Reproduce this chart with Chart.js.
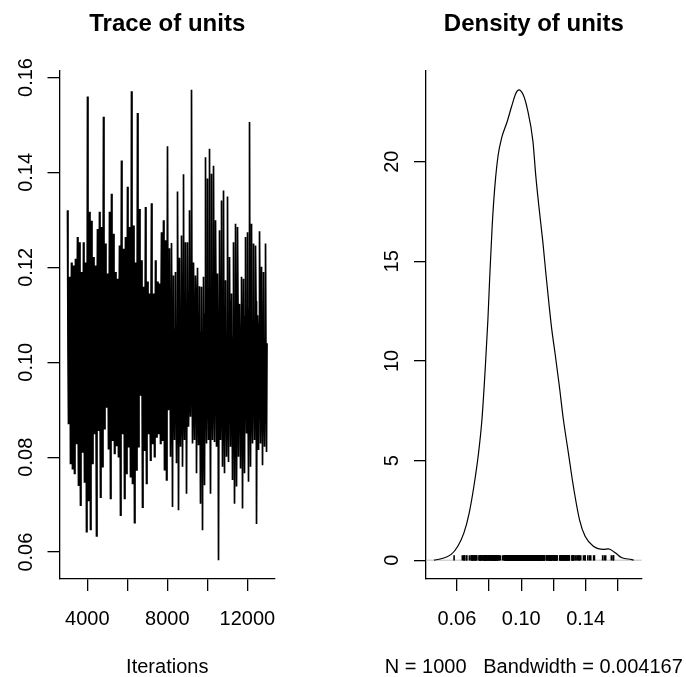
<!DOCTYPE html>
<html>
<head>
<meta charset="utf-8">
<script src="https://cdn.jsdelivr.net/npm/chart.js@4.4.1/dist/chart.umd.min.js"></script>
<style>
  body { margin: 0; background: #fff; }
  .panel { position: absolute; top: 0; width: 343px; height: 677px; }
</style>
</head>
<body>
<div class="panel" style="left:0"><canvas id="trace" width="343" height="677"></canvas></div>
<div class="panel" style="left:343px"><canvas id="density" width="343" height="677"></canvas></div>
<script>
// trace of "units": for each pair of pixel columns
// the top of the ink, a value inside the solid band, the bottom of the ink,
// and another value inside the band (iteration 3010, every 25)
const iterStart = 3010;
const iterStep = 25;
const tracePeaks = [
  0.132,0.118,0.121,0.1204,0.1218,0.1264,0.1253,0.119,0.1253,0.121,
  0.156,0.1317,0.1298,0.1222,0.1204,0.1281,0.1317,0.1285,0.1517,0.125,
  0.1187,0.1317,0.1355,0.1271,0.119,0.1176,0.1246,0.1425,0.1239,0.1264,
  0.137,0.1285,0.1571,0.1288,0.121,0.1525,0.1323,0.1215,0.1159,0.1327,
  0.117,0.1145,0.1335,0.1145,0.1215,0.117,0.1166,0.1274,0.1299,0.1257,
  0.1455,0.124,0.1251,0.1183,0.119,0.136,0.122,0.1267,0.1396,0.1253,
  0.1253,0.132,0.1574,0.121,0.1183,0.1199,0.116,0.1159,0.118,0.1432,
  0.1387,0.145,0.1397,0.1414,0.1299,0.1187,0.1278,0.1341,0.1362,0.1173,
  0.1349,0.1222,0.1145,0.1253,0.1292,0.1285,0.1123,0.118,0.1176,0.1264,
  0.1274,0.1506,0.1292,0.125,0.1246,0.1099,0.1276,0.1201,0.119,0.125
];
const traceTroughs = [
  0.0871,0.0787,0.0776,0.0766,0.0829,0.0741,0.0699,0.0811,0.0748,0.0643,
  0.0709,0.0648,0.0787,0.085,0.0634,0.0857,0.0716,0.078,0.086,0.0906,
  0.0818,0.0713,0.0836,0.0808,0.0825,0.0801,0.0678,0.085,0.0713,0.0766,
  0.0822,0.0759,0.0745,0.0662,0.0773,0.0822,0.0931,0.0695,0.0815,0.0745,
  0.085,0.0794,0.0829,0.0801,0.0843,0.085,0.0829,0.0836,0.0774,0.0752,
  0.0899,0.0801,0.0695,0.0836,0.0787,0.0688,0.0822,0.078,0.0836,0.0723,
  0.0864,0.0885,0.0829,0.0836,0.0766,0.0825,0.0702,0.0646,0.0741,0.0829,
  0.0836,0.0723,0.0836,0.0832,0.0822,0.0583,0.0836,0.078,0.0766,0.0801,
  0.079,0.0822,0.0752,0.0702,0.0738,0.0801,0.0776,0.0692,0.0766,0.085,
  0.0748,0.078,0.0829,0.0836,0.0659,0.0815,0.0829,0.0783,0.0822,0.0811
];
const traceMids = [
  0.1032,0.0951,0.1104,0.0987,0.1068,0.0915,0.1121,0.1009,0.0942,0.1083,
  0.0968,0.1047,0.0896,0.1135,0.1014,0.0929,0.1092,0.0976,0.1058,0.0903,
  0.1117,0.0993,0.1026,0.0937,0.1074,0.1002,0.0958,0.1143,0.0919,0.1061,
  0.0984,0.1098,0.0947,0.1039,0.0891,0.1112,0.1021,0.0966,0.1087,0.0935,
  0.1053,0.0979,0.1128,0.0908,0.1045,0.0996,0.1076,0.0924,0.1017,0.1105,
  0.0959,0.1064,0.0988,0.1131,0.0912,0.1036,0.1095,0.0971,0.1011,0.0943,
  0.1081,0.0926,0.1049,0.1003,0.1118,0.0954,0.1029,0.0898,0.1071,0.0991,
  0.1107,0.0939,0.1056,0.0982,0.1024,0.1139,0.0917,0.1043,0.0965,0.1089,
  0.0998,0.1066,0.0932,0.1115,0.1007,0.0973,0.1051,0.0906,0.1099,0.1019,
  0.0949,0.1078,0.0985,0.1124,0.0921,0.1038,0.1062,0.0956,0.1102,0.0994,
  0.1027,0.0913,0.1086,0.0977,0.1041,0.1126,0.0934,0.1069,0.0989,0.1012,
  0.1093,0.0961,0.1034,0.0902,0.1108,0.1001,0.0944,0.1073,0.1022,0.0969,
  0.1057,0.0927,0.1114,0.0992,0.1046,0.0911,0.1084,0.0978,0.1136,0.0952,
  0.1015,0.1091,0.0938,0.1063,0.0983,0.1029,0.0907,0.1101,0.0962,0.1048,
  0.0974,0.1122,0.0923,0.1055,0.1008,0.0946,0.1079,0.0997,0.1133,0.0916,
  0.1042,0.0981,0.1097,0.0955,0.1018,0.1067,0.0931,0.1109,0.0972,0.1035,
  0.0909,0.1088,0.0995,0.1127,0.0948,0.1052,0.1005,0.0967,0.1082,0.0928,
  0.1119,0.0986,0.1037,0.0918,0.1072,0.1013,0.0953,0.1096,0.0979,0.1059,
  0.0936,0.1111,0.0999,0.1044,0.0914,0.1085,0.0964,0.1031,0.1129,0.0957,
  0.1065,0.0990,0.1106,0.0941,0.1025,0.1077,0.0921,0.1050,0.0983,0.1040
];

// kernel density curve
const densX = [0.0458,0.0502,0.0565,0.0606,0.0644,0.0677,0.0706,0.0735,0.0756,0.0776,
  0.0793,0.0805,0.0820,0.0837,0.0857,0.0878,0.0913,0.0940,0.0967,0.0986,
  0.1013,0.1037,0.1073,0.1090,0.1111,0.1134,0.1154,0.1175,0.1190,0.1210,
  0.1237,0.1262,0.1293,0.1324,0.1362,0.1397,0.1449,0.1511,0.1542,0.1584,
  0.1626,0.1688,0.1699];
const densY = [0,0.07,0.29,0.70,1.37,2.38,3.71,5.39,7.06,9.56,
  12.07,14.33,16.84,18.84,20.35,21.18,22.02,22.77,23.44,23.61,
  23.35,22.69,21.01,19.34,17.67,16.0,14.33,12.66,11.57,10.4,
  8.73,7.06,5.39,3.71,2.04,1.20,0.70,0.54,0.57,0.37,
  0.12,0.03,0];

// axis ticks and labels (R drops the labels that would overlap)
const traceXTicks = [4000, 6000, 8000, 10000, 12000];
const traceXLabels = ['4000', '', '8000', '', '12000'];
const traceYTicks = [0.06, 0.08, 0.10, 0.12, 0.14, 0.16];
const traceYLabels = ['0.06', '0.08', '0.10', '0.12', '0.14', '0.16'];
const densXTicks = [0.06, 0.08, 0.10, 0.12, 0.14, 0.16];
const densXLabels = ['0.06', '', '0.10', '', '0.14', ''];
const densYTicks = [0, 5, 10, 15, 20];
const densYLabels = ['0', '5', '10', '15', '20'];

const FONT = '"Liberation Sans", Arial, Helvetica, sans-serif';
Chart.defaults.font.family = FONT;

// the chain in order: peak, mid, trough, mid, peak, ...
const units = [];
tracePeaks.forEach((p, i) => {
  units.push(p, traceMids[2 * i], traceTroughs[i], traceMids[2 * i + 1]);
});
const iterations = units.map((v, i) => iterStart + i * iterStep);

// R pads the data range by 4% on each side
function padRange(vals) {
  const lo = Math.min(...vals), hi = Math.max(...vals);
  const d = (hi - lo) * 0.04;
  return [lo - d, hi + d];
}

// titles, tick labels (y labels rotated like R's las=0) and axis titles
const rText = {
  id: 'rText',
  afterDraw(chart, args, opts) {
    const { ctx, chartArea: a, scales: { x, y } } = chart;
    const cx = (a.left + a.right) / 2;
    ctx.save();
    ctx.fillStyle = '#000';
    ctx.textAlign = 'center';
    ctx.textBaseline = 'alphabetic';
    ctx.font = 'bold 24px ' + FONT;
    ctx.fillText(opts.title, cx, 30.7);
    ctx.font = '20px ' + FONT;
    x.ticks.forEach((t, i) => {
      if (opts.xLabels[i]) ctx.fillText(opts.xLabels[i], x.getPixelForValue(t.value), 625);
    });
    ctx.fillText(opts.xTitle, cx, 672.5);
    y.ticks.forEach((t, i) => {
      ctx.save();
      ctx.translate(a.left - 28, y.getPixelForValue(t.value));
      ctx.rotate(-Math.PI / 2);
      ctx.fillText(opts.yLabels[i], 0, 0);
      ctx.restore();
    });
    ctx.restore();
  }
};

// thin grey line at density 0
const zeroLine = {
  id: 'zeroLine',
  beforeDatasetsDraw(chart) {
    const { ctx, chartArea: a, scales: { y } } = chart;
    const py = y.getPixelForValue(0);
    ctx.save();
    ctx.strokeStyle = '#bebebe';
    ctx.lineWidth = 1;
    ctx.beginPath();
    ctx.moveTo(a.left, py);
    ctx.lineTo(a.right, py);
    ctx.stroke();
    ctx.restore();
  }
};

function axis(min, max, ticks, size, isX) {
  return {
    type: 'linear',
    min: min,
    max: max,
    afterBuildTicks: s => { s.ticks = ticks.map(v => ({ value: v })); },
    afterFit: s => { if (isX) s.height = size; else s.width = size; },
    ticks: { display: false },
    grid: { drawOnChartArea: false, drawTicks: true, tickLength: 12, color: '#000', lineWidth: 1.3 },
    border: { display: true, color: '#000', width: 1.3 }
  };
}

// ---- trace plot ----
const traceXRange = padRange(iterations);
const traceYRange = padRange(units);

new Chart(document.getElementById('trace'), {
  type: 'line',
  data: {
    datasets: [{
      data: units.map((v, i) => ({ x: iterations[i], y: v })),
      borderColor: '#000',
      borderWidth: 1.7,
      pointRadius: 0,
      tension: 0
    }]
  },
  options: {
    responsive: false,
    animation: false,
    devicePixelRatio: 1,
    layout: { padding: { top: 71, right: 68, bottom: 0, left: 0 } },
    scales: {
      x: axis(traceXRange[0], traceXRange[1], traceXTicks, 98, true),
      y: axis(traceYRange[0], traceYRange[1], traceYTicks, 59.5, false)
    },
    plugins: {
      legend: { display: false },
      tooltip: { enabled: false },
      rText: { title: 'Trace of units', xTitle: 'Iterations', xLabels: traceXLabels, yLabels: traceYLabels }
    }
  },
  plugins: [rText]
});

// ---- density plot ----
const densXRange = padRange(densX);
const densYRange = padRange(densY);
const rugTop = Math.max(...densY) / 100;

new Chart(document.getElementById('density'), {
  type: 'line',
  data: {
    datasets: [{
      data: densX.map((v, i) => ({ x: v, y: densY[i] })),
      borderColor: '#000',
      borderWidth: 1.2,
      pointRadius: 0,
      cubicInterpolationMode: 'monotone'
    }, {
      // rug of the sampled values, short vertical strokes from 0 up to rugTop
      type: 'scatter',
      data: units.map(v => ({ x: v, y: rugTop / 2 })),
      pointStyle: 'line',
      rotation: 90,
      pointRadius: 2.7,
      pointBorderWidth: 1.6,
      borderColor: '#000',
      backgroundColor: '#000'
    }]
  },
  options: {
    responsive: false,
    animation: false,
    devicePixelRatio: 1,
    layout: { padding: { top: 71, right: 44.3, bottom: 0, left: 0 } },
    scales: {
      x: axis(densXRange[0], densXRange[1], densXTicks, 98, true),
      y: axis(densYRange[0], densYRange[1], densYTicks, 83, false)
    },
    plugins: {
      legend: { display: false },
      tooltip: { enabled: false },
      rText: { title: 'Density of units', xTitle: 'N = 1000   Bandwidth = 0.004167', xLabels: densXLabels, yLabels: densYLabels }
    }
  },
  plugins: [rText, zeroLine]
});
</script>
</body>
</html>
